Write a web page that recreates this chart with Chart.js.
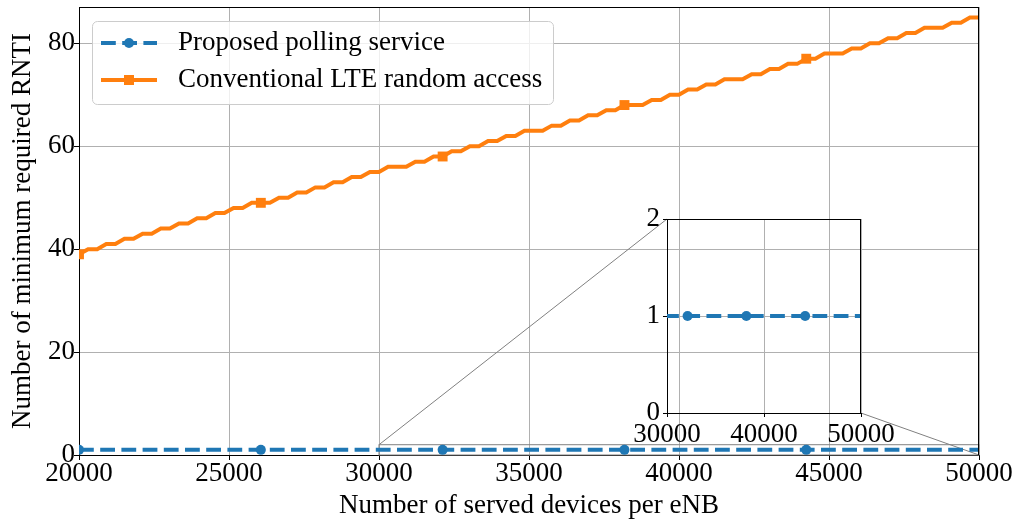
<!DOCTYPE html>
<html><head><meta charset="utf-8">
<script src="https://cdn.jsdelivr.net/npm/chart.js@4.4.1/dist/chart.umd.min.js"></script>
<style>
html,body{margin:0;padding:0;background:#fff;}
#wrap{position:relative;width:1016px;height:520px;overflow:hidden;}
#main{position:absolute;left:0;top:0;}
#inset{position:absolute;left:600px;top:200px;}
</style></head><body>
<div id="wrap"><canvas id="main" width="1016" height="520"></canvas><canvas id="inset" width="300" height="250"></canvas></div>
<script>
// ---- data ----
const devices = [
  20000,20303,20606,20909,21212,21515,21818,22121,22424,22727,
  23030,23333,23636,23939,24242,24545,24848,25152,25455,25758,
  26061,26364,26667,26970,27273,27576,27879,28182,28485,28788,
  29091,29394,29697,30000,30303,30606,30909,31212,31515,31818,
  32121,32424,32727,33030,33333,33636,33939,34242,34545,34848,
  35152,35455,35758,36061,36364,36667,36970,37273,37576,37879,
  38182,38485,38788,39091,39394,39697,40000,40303,40606,40909,
  41212,41515,41818,42121,42424,42727,43030,43333,43636,43939,
  44242,44545,44848,45152,45455,45758,46061,46364,46667,46970,
  47273,47576,47879,48182,48485,48788,49091,49394,49697,50000
];
const pollingRNTI = [
  1,1,1,1,1,1,1,1,1,1, 1,1,1,1,1,1,1,1,1,1,
  1,1,1,1,1,1,1,1,1,1, 1,1,1,1,1,1,1,1,1,1,
  1,1,1,1,1,1,1,1,1,1, 1,1,1,1,1,1,1,1,1,1,
  1,1,1,1,1,1,1,1,1,1, 1,1,1,1,1,1,1,1,1,1,
  1,1,1,1,1,1,1,1,1,1, 1,1,1,1,1,1,1,1,1,1
];
const lteRNTI = [
  39,40,40,41,41,42,42,43,43,44,
  44,45,45,46,46,47,47,48,48,49,
  49,49,50,50,51,51,52,52,53,53,
  54,54,55,55,56,56,56,57,57,58,
  58,59,59,60,60,61,61,62,62,63,
  63,63,64,64,65,65,66,66,67,67,
  68,68,68,69,69,70,70,71,71,72,
  72,73,73,73,74,74,75,75,76,76,
  77,77,78,78,78,79,79,80,80,81,
  81,82,82,83,83,83,84,84,85,85
];
const seriesLabels = ['Proposed polling service', 'Conventional LTE random access'];
const xTicks = [20000, 25000, 30000, 35000, 40000, 45000, 50000];
const yTicks = [0, 20, 40, 60, 80];
const insetXTicks = [30000, 40000, 50000];
const insetYTicks = [0, 1, 2];
const xTitle = 'Number of served devices per eNB';
const yTitle = 'Number of minimum required RNTI';

// ---- styling ----
const FONT = '"Liberation Serif", "Times New Roman", serif';
const FS = 27;
const BLUE = '#1f77b4', ORANGE = '#ff7f0e';
const GRID = '#b0b0b0';
const markEvery = c => c.dataIndex % 20 === 0;

function fixedTicks(arr) { return s => { s.ticks = arr.map(v => ({ value: v })); }; }
function pts(ys) { return devices.map((x, i) => ({ x: x, y: ys[i] })); }

function pollingDataset() {
  return {
    label: seriesLabels[0], data: pts(pollingRNTI),
    borderColor: BLUE, backgroundColor: BLUE, borderWidth: 4, borderDash: [14.8, 6.4],
    pointStyle: 'circle', pointRadius: c => markEvery(c) ? 5 : 0, pointBorderWidth: 0,
    pointBackgroundColor: BLUE, pointBorderColor: BLUE, pointHoverRadius: 0,
    tension: 0, clip: 0, order: 2
  };
}
function lteDataset() {
  return {
    label: seriesLabels[1], data: pts(lteRNTI),
    borderColor: ORANGE, backgroundColor: ORANGE, borderWidth: 4,
    pointStyle: 'rect', pointRadius: c => markEvery(c) ? 7 : 0, pointBorderWidth: 0,
    pointBackgroundColor: ORANGE, pointBorderColor: ORANGE, pointHoverRadius: 0,
    tension: 0, clip: 0, order: 1
  };
}

const frame = {
  id: 'frame',
  afterDatasetsDraw(chart) {
    const { ctx, chartArea: a } = chart;
    ctx.save();
    ctx.strokeStyle = '#000'; ctx.lineWidth = 1;
    ctx.beginPath();
    ctx.moveTo(Math.round(a.left), Math.round(a.top) + 0.5);
    ctx.lineTo(Math.round(a.right), Math.round(a.top) + 0.5);
    ctx.moveTo(Math.round(a.right) - 0.5, Math.round(a.top));
    ctx.lineTo(Math.round(a.right) - 0.5, Math.round(a.bottom));
    ctx.stroke();
    ctx.restore();
  }
};

function fitY(w) { return s => { s.width = w; s.paddingTop = 0; s.paddingBottom = 0; }; }
function fitX(h) { return s => { s.height = h; s.paddingLeft = 0; s.paddingRight = 0; }; }

// ---- inset ----
const insetCanvas = document.getElementById('inset');
const insetChart = new Chart(insetCanvas, {
  type: 'line',
  data: { datasets: [pollingDataset()] },
  options: {
    responsive: false, animation: false, events: [], devicePixelRatio: 1,
    layout: { padding: { left: 0, top: 19, right: 39, bottom: 0 } },
    plugins: { legend: { display: false }, tooltip: { enabled: false } },
    scales: {
      x: {
        type: 'linear', min: insetXTicks[0], max: insetXTicks[insetXTicks.length - 1],
        afterBuildTicks: fixedTicks(insetXTicks), afterFit: fitX(37),
        grid: { color: GRID, lineWidth: 1, tickLength: 4, tickColor: '#000' },
        border: { display: true, color: '#000', width: 1 },
        ticks: { color: '#000', font: { family: FONT, size: FS }, padding: 2, maxRotation: 0, autoSkip: false, callback: v => String(v) }
      },
      y: {
        type: 'linear', min: insetYTicks[0], max: insetYTicks[insetYTicks.length - 1],
        afterBuildTicks: fixedTicks(insetYTicks), afterFit: fitY(67),
        grid: { color: GRID, lineWidth: 1, tickLength: 4, tickColor: '#000' },
        border: { display: true, color: '#000', width: 1 },
        ticks: { color: '#000', font: { family: FONT, size: FS }, padding: 3, callback: v => String(v) }
      }
    }
  },
  plugins: [frame]
});

// ---- main ----
const insetLinks = {
  id: 'insetLinks',
  beforeDatasetsDraw(chart) {
    const { ctx, scales: { x, y } } = chart;
    const ix = insetChart.scales.x, iy = insetChart.scales.y;
    const x0 = x.getPixelForValue(ix.min), x1 = x.getPixelForValue(ix.max);
    const y0 = y.getPixelForValue(iy.min), y1 = y.getPixelForValue(iy.max);
    const ia = insetChart.chartArea;
    const ox = insetCanvas.offsetLeft, oy = insetCanvas.offsetTop;
    ctx.save();
    ctx.strokeStyle = '#808080'; ctx.lineWidth = 1;
    ctx.strokeRect(x0, y1, x1 - x0, y0 - y1);
    ctx.beginPath();
    ctx.moveTo(x0, y1); ctx.lineTo(ox + ia.left, oy + ia.top);
    ctx.moveTo(x1, y0); ctx.lineTo(ox + ia.right, oy + ia.bottom);
    ctx.stroke();
    ctx.restore();
  }
};

const legendBox = {
  id: 'legendBox',
  afterDraw(chart) {
    const { ctx, chartArea: a } = chart;
    const ds = chart.data.datasets;
    const bx = a.left + 13.5, by = a.top + 14.5, bw = 461, bh = 83, r = 5;
    ctx.save();
    ctx.beginPath();
    ctx.moveTo(bx + r, by);
    ctx.arcTo(bx + bw, by, bx + bw, by + bh, r);
    ctx.arcTo(bx + bw, by + bh, bx, by + bh, r);
    ctx.arcTo(bx, by + bh, bx, by, r);
    ctx.arcTo(bx, by, bx + bw, by, r);
    ctx.closePath();
    ctx.fillStyle = 'rgba(255,255,255,0.8)';
    ctx.fill();
    ctx.strokeStyle = '#cccccc'; ctx.lineWidth = 1;
    ctx.stroke();
    const rows = [a.top + 36, a.top + 73];
    const lx0 = a.left + 22, lx1 = a.left + 78, lxm = (lx0 + lx1) / 2;
    ds.forEach((d, i) => {
      const yy = rows[i];
      ctx.save();
      ctx.strokeStyle = d.borderColor; ctx.lineWidth = d.borderWidth;
      ctx.setLineDash(d.borderDash || []);
      ctx.beginPath(); ctx.moveTo(lx0, yy); ctx.lineTo(lx1, yy); ctx.stroke();
      ctx.setLineDash([]);
      ctx.fillStyle = d.pointBackgroundColor;
      if (d.pointStyle === 'rect') {
        ctx.fillRect(lxm - 5, yy - 5, 10, 10);
      } else {
        ctx.beginPath(); ctx.arc(lxm, yy, 5, 0, Math.PI * 2); ctx.fill();
      }
      ctx.restore();
      ctx.fillStyle = '#000';
      ctx.font = FS + 'px ' + FONT;
      ctx.textBaseline = 'middle';
      ctx.textAlign = 'left';
      ctx.fillText(d.label, a.left + 99, yy);
    });
    ctx.restore();
  }
};

new Chart(document.getElementById('main'), {
  type: 'line',
  data: { datasets: [pollingDataset(), lteDataset()] },
  options: {
    responsive: false, animation: false, events: [], devicePixelRatio: 1,
    layout: { padding: { left: 0, top: 7, right: 37, bottom: 0 } },
    plugins: { legend: { display: false }, tooltip: { enabled: false } },
    scales: {
      x: {
        type: 'linear', min: xTicks[0], max: xTicks[xTicks.length - 1],
        afterBuildTicks: fixedTicks(xTicks), afterFit: fitX(65),
        grid: { color: GRID, lineWidth: 1, tickLength: 5, tickColor: '#000' },
        border: { display: true, color: '#000', width: 1 },
        ticks: { color: '#000', font: { family: FONT, size: FS }, padding: -2, maxRotation: 0, autoSkip: false, callback: v => String(v) },
        title: { display: true, text: xTitle, color: '#000', font: { family: FONT, size: FS }, padding: { top: 0, bottom: -2 } }
      },
      y: {
        type: 'linear', min: 0, max: 87.05,
        afterBuildTicks: fixedTicks(yTicks), afterFit: fitY(79),
        grid: { color: GRID, lineWidth: 1, tickLength: 5, tickColor: '#000' },
        border: { display: true, color: '#000', width: 1 },
        ticks: { color: '#000', font: { family: FONT, size: FS }, padding: -1, callback: v => String(v) },
        title: { display: true, text: yTitle, color: '#000', font: { family: FONT, size: FS }, padding: { top: 7, bottom: 0 } }
      }
    }
  },
  plugins: [insetLinks, frame, legendBox]
});
</script>
</body></html>
